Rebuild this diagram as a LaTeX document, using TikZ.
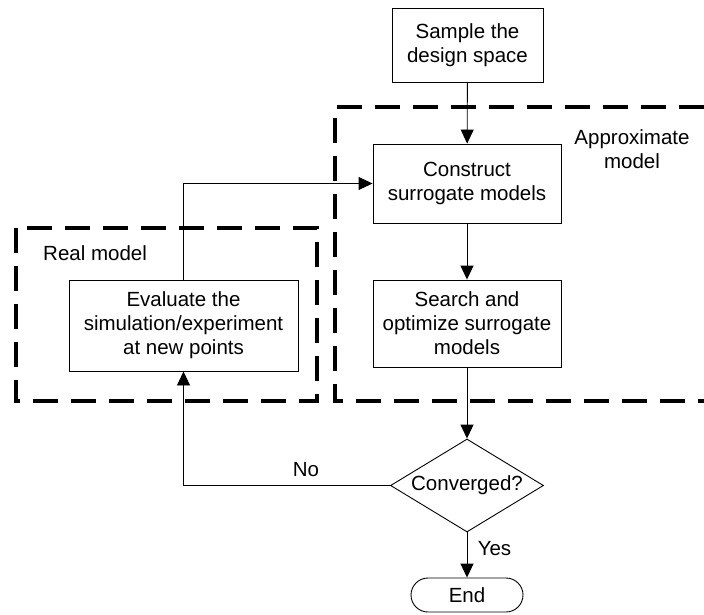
\documentclass[tikz,border=0pt]{standalone}
\usepackage{fontspec}
\setmainfont{Liberation Sans}
\usetikzlibrary{arrows.meta,shapes.geometric}
\begin{document}
\begin{tikzpicture}[x=1pt,y=-1pt,
  font=\fontsize{20.5}{24}\selectfont,
  procbox/.style={draw,line width=0.9pt,align=center,inner sep=0pt},
  flow/.style={line width=0.9pt,-{Triangle[length=14pt,width=13pt]}},
  region/.style={line width=3.5pt,dash pattern=on 25pt off 13pt},
  lbl/.style={inner sep=0pt}]
\useasboundingbox (0,0) rectangle (704,615);

% dashed regions
\draw[region] (16,228) rectangle (317,401);
\draw[region] (704,107) -- (335,107) -- (335,401) -- (704,401);
\node[lbl,anchor=west] (realtxt) at (43,253) {Real model};
\node[lbl,align=center] (approxtxt) at (632,149) {Approximate\\model};

% process nodes
\node[procbox,minimum width=151pt,minimum height=74pt] (sample) at (467.5,45) {Sample the\\design space};
\node[procbox,minimum width=188pt,minimum height=79pt] (construct) at (467,183.5) {Construct\\surrogate models};
\node[procbox,minimum width=188pt,minimum height=87pt] (search) at (467,323.5) {Search and\\optimize surrogate\\models};
\node[procbox,minimum width=229pt,minimum height=91pt] (evaluate) at (183.5,325.5) {Evaluate the\\simulation/experiment\\at new points};
\node[draw,line width=0.9pt,diamond,aspect=1.65,inner sep=0pt,minimum width=153pt,minimum height=93pt] (conv) at (467,485.5) {Converged?};
\node[draw,line width=0.9pt,rounded corners=17pt,minimum width=112pt,minimum height=34pt,inner sep=0pt] (end) at (467,595) {End};

\coordinate (nocorner) at (evaluate.south |- conv.west);

% connectors
\draw[flow] (sample) -- (construct);
\draw[flow] (construct) -- (search);
\draw[flow] (search) -- (conv);
\draw[flow] (conv) -- (end);
\draw[flow] (conv.west) -- (nocorner) -- (evaluate.south);
\draw[flow] (evaluate.north) |- (construct.west);

\node[lbl] (yes) at (494.5,549) {Yes};
\node[lbl] (no) at (306,470) {No};
\end{tikzpicture}
\end{document}
